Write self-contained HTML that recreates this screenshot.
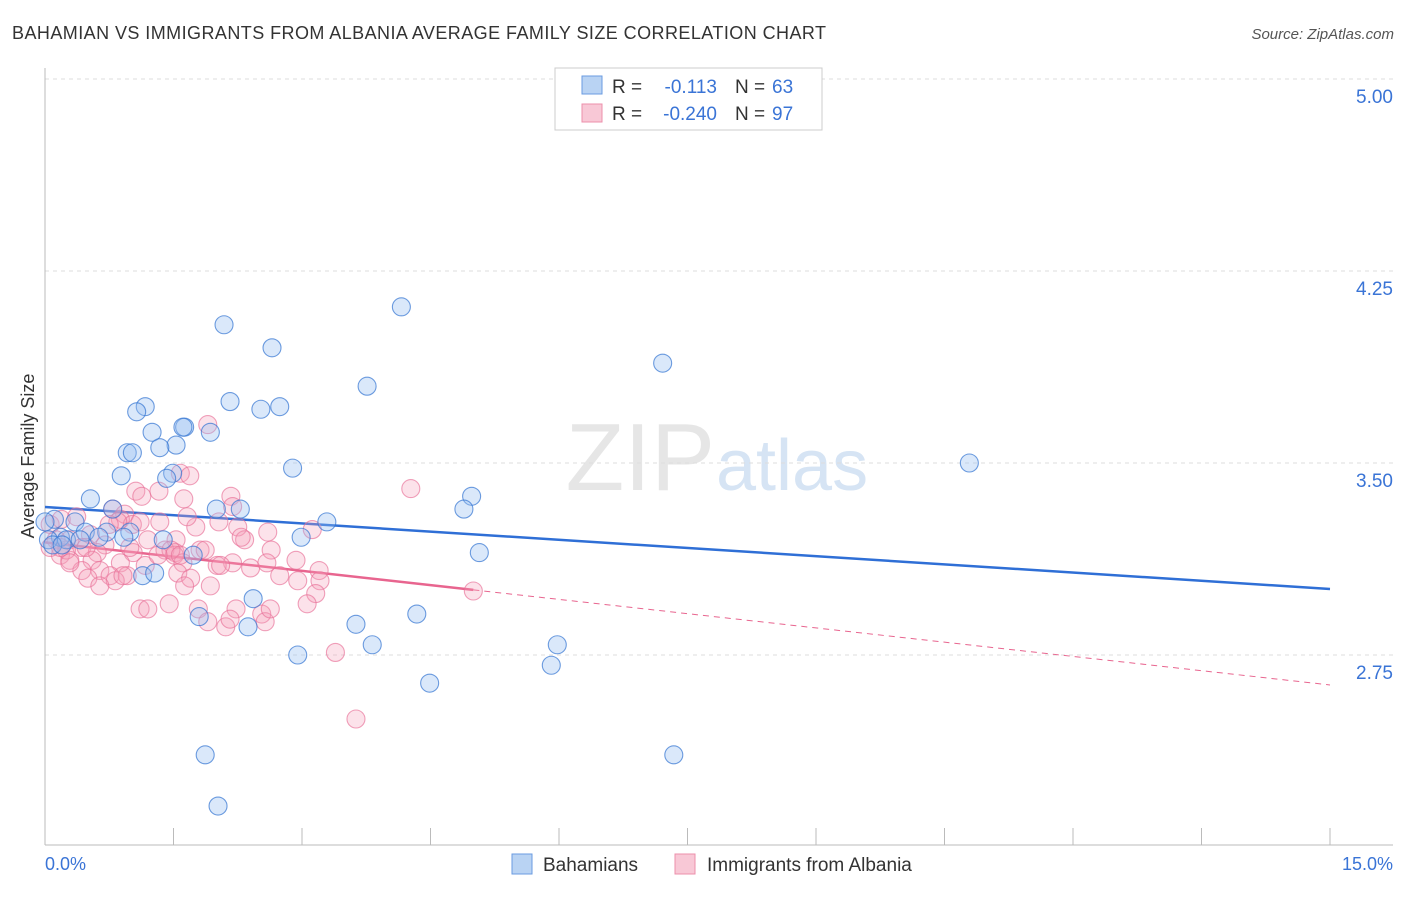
<!DOCTYPE html>
<html><head><meta charset="utf-8"><style>
body{margin:0;background:#fff;font-family:"Liberation Sans",sans-serif}
svg text{font-family:"Liberation Sans",sans-serif}
</style></head><body>
<svg id="chart" width="1406" height="892" viewBox="0 0 1406 892" xmlns="http://www.w3.org/2000/svg">
<text x="12" y="39" font-size="18" fill="#333" textLength="814">BAHAMIAN VS IMMIGRANTS FROM ALBANIA AVERAGE FAMILY SIZE CORRELATION CHART</text>
<text x="1394" y="39" font-size="15" fill="#555" text-anchor="end" font-style="italic">Source: ZipAtlas.com</text>
<text x="715" y="490" font-size="96" fill="#e6e6e6" text-anchor="end" font-family="Liberation Serif">ZIP</text>
<text x="716" y="490" font-size="72" fill="#d6e4f4">atlas</text>
<g id="grid"></g>
<g id="axes"></g>
<text transform="translate(34,456) rotate(-90)" font-size="18" fill="#333" text-anchor="middle">Average Family Size</text>
<g id="lines"></g>
<g id="points"></g>
<g>
<rect x="555" y="68" width="267" height="62" fill="#fff" stroke="#ccc"/>
<rect x="582" y="76" width="20" height="18" fill="#b9d3f3" stroke="#6a9be0"/>
<rect x="582" y="104" width="20" height="18" fill="#f8c8d6" stroke="#ec8fab"/>
<text x="612" y="93" font-size="19" fill="#333">R =</text>
<text x="717" y="93" font-size="19" fill="#3a74d6" text-anchor="end">-0.113</text>
<text x="735" y="93" font-size="19" fill="#333">N =</text>
<text x="772" y="93" font-size="19" fill="#3a74d6">63</text>
<text x="612" y="120" font-size="19" fill="#333">R =</text>
<text x="717" y="120" font-size="19" fill="#3a74d6" text-anchor="end">-0.240</text>
<text x="735" y="120" font-size="19" fill="#333">N =</text>
<text x="772" y="120" font-size="19" fill="#3a74d6">97</text>
</g>
<g>
<rect x="512" y="854" width="20" height="20" fill="#b9d3f3" stroke="#6a9be0"/>
<text x="543" y="871" font-size="19" fill="#333">Bahamians</text>
<rect x="675" y="854" width="20" height="20" fill="#f8c8d6" stroke="#ec8fab"/>
<text x="707" y="871" font-size="19" fill="#333">Immigrants from Albania</text>
</g>
<text x="45" y="870" font-size="18" fill="#3a74d6">0.0%</text>
<text x="1393" y="870" font-size="18" fill="#3a74d6" text-anchor="end">15.0%</text>
</svg>
<script>
const yTicks=[5.00,4.25,3.50,2.75];
const yTickLabels=["5.00","4.25","3.50","2.75"];
const xTicks=[0,1.5,3,4.5,6,7.5,9,10.5,12,13.5,15];
const blueX=[2.09,4.16,2.65,7.21,3.76,2.16,1.17,1.07,2.52,2.74,1.25,1.63,1.61,1.93,0.96,1.02,1.53,1.34,10.79,2.89,0.89,1.49,1.42,0.53,4.98,2.00,2.28,0.79,4.89,3.29,0.35,0.11,0.47,0.72,0.99,2.99,0.18,0.25,0.63,0.92,1.38,1.73,5.07,0.04,0.09,1.14,1.28,2.43,4.34,1.80,3.63,2.37,5.98,3.82,2.95,5.91,4.49,1.87,7.34,2.02,0.0,0.2,0.41];
const blueY=[4.04,4.11,3.95,3.89,3.80,3.74,3.72,3.70,3.71,3.72,3.62,3.64,3.64,3.62,3.54,3.54,3.57,3.56,3.50,3.48,3.45,3.46,3.44,3.36,3.37,3.32,3.32,3.32,3.32,3.27,3.27,3.28,3.23,3.23,3.23,3.21,3.21,3.20,3.21,3.21,3.20,3.14,3.15,3.20,3.18,3.06,3.07,2.97,2.91,2.90,2.87,2.86,2.79,2.79,2.75,2.71,2.64,2.36,2.36,2.16,3.27,3.18,3.20];
const pinkX=[1.90,1.58,1.69,4.27,1.06,1.33,1.62,2.17,1.13,2.19,0.79,0.93,1.34,0.88,1.02,1.76,2.25,2.60,3.12,0.06,0.19,0.29,0.53,0.70,1.20,1.53,2.33,2.64,0.43,0.61,1.03,1.40,1.52,1.81,1.51,0.18,0.29,0.55,0.88,1.17,1.61,2.19,2.93,0.43,0.64,0.76,0.96,1.55,2.01,2.40,3.20,0.50,0.82,0.91,1.70,2.05,2.74,3.21,0.64,1.63,1.93,3.16,1.11,1.20,1.45,2.23,1.79,3.06,2.53,2.57,2.11,1.90,3.39,3.63,5.00,0.37,0.13,0.25,1.11,0.85,1.47,1.87,1.32,1.58,2.03,2.63,0.29,0.18,0.06,0.48,0.99,0.75,1.66,2.29,2.59,2.95,2.16];
const pinkY=[3.65,3.46,3.45,3.40,3.39,3.39,3.36,3.37,3.37,3.33,3.32,3.30,3.27,3.28,3.26,3.25,3.25,3.23,3.24,3.26,3.28,3.20,3.22,3.18,3.20,3.20,3.20,3.16,3.17,3.15,3.15,3.16,3.15,3.16,3.14,3.14,3.12,3.12,3.11,3.10,3.11,3.11,3.12,3.08,3.08,3.06,3.06,3.07,3.10,3.09,3.08,3.05,3.04,3.06,3.05,3.10,3.06,3.04,3.02,3.02,3.02,2.99,2.93,2.93,2.95,2.93,2.93,2.95,2.91,2.88,2.86,2.88,2.76,2.50,3.00,3.29,3.20,3.16,3.27,3.27,3.16,3.16,3.14,3.14,3.27,2.93,3.11,3.17,3.17,3.17,3.17,3.26,3.29,3.21,3.11,3.04,2.89];
const blueTrend=[3.328,3.008];
const pinkTrend=[3.19,2.633];
const pinkSolidEnd=5.0;

const NS="http://www.w3.org/2000/svg";
const X0=45,X1=1330,YTOP=79;
function xs(p){return X0+(p/15)*(X1-X0);}
function ys(v){return YTOP+(5-v)*256;}
function mk(tag,attrs,parent){const e=document.createElementNS(NS,tag);for(const k in attrs)e.setAttribute(k,attrs[k]);parent.appendChild(e);return e;}
const grid=document.getElementById('grid'),axes=document.getElementById('axes'),lines=document.getElementById('lines'),pts=document.getElementById('points');
yTicks.forEach((t,i)=>{
 const l=mk('line',{x1:45,x2:1393,y1:ys(t),y2:ys(t),stroke:'#ddd','stroke-dasharray':'4,4'},grid);
 
 
 const tx=mk('text',{x:1393,y:ys(t)+24,'font-size':19,fill:'#3a74d6','text-anchor':'end'},grid);
 tx.textContent=yTickLabels[i];
 
 
});
const ya=mk('line',{x1:45,x2:45,y1:68,y2:845,stroke:'#bbb'},axes);


const xa=mk('line',{x1:45,x2:1393,y1:845,y2:845,stroke:'#bbb'},axes);


xTicks.forEach(t=>{
 const l=mk('line',{x1:xs(t),x2:xs(t),y1:828,y2:845,stroke:'#bbb'},axes);
 
 
});
function dot(x,y,fill,stroke,name){
 const c=mk('circle',{cx:xs(x),cy:ys(y),r:9,fill:fill,stroke:stroke,'stroke-width':1.1},pts);
 
 
}
pinkX.forEach((x,i)=>dot(x,pinkY[i],'rgba(244,160,185,0.3)','rgba(232,110,150,0.65)','albania-point'));
blueX.forEach((x,i)=>dot(x,blueY[i],'rgba(150,190,240,0.35)','rgba(50,115,210,0.7)','bahamian-point'));
const bl=mk('line',{x1:xs(0),y1:ys(blueTrend[0]),x2:xs(15),y2:ys(blueTrend[1]),stroke:'#2f6fd6','stroke-width':2.5},lines);


function pAt(x){return pinkTrend[0]+(pinkTrend[1]-pinkTrend[0])*x/15;}
const ps=mk('line',{x1:xs(0),y1:ys(pAt(0)),x2:xs(pinkSolidEnd),y2:ys(pAt(pinkSolidEnd)),stroke:'#e8658f','stroke-width':2.5},lines);


const pd=mk('line',{x1:xs(pinkSolidEnd),y1:ys(pAt(pinkSolidEnd)),x2:xs(15),y2:ys(pAt(15)),stroke:'#e8658f','stroke-width':1,'stroke-dasharray':'6,5'},lines);


</script>
</body></html>
